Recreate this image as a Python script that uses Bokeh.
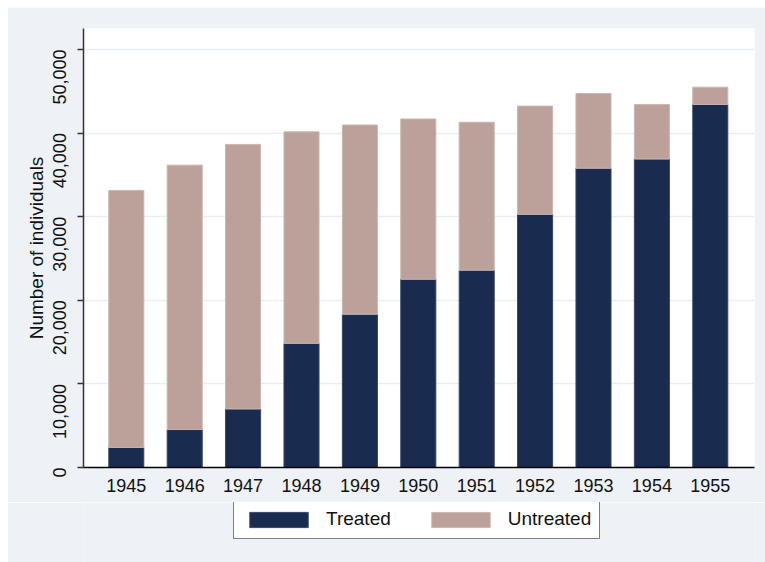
import math
from bokeh.plotting import figure
from bokeh.layouts import column
from bokeh.models import Range1d, FixedTicker, NumeralTickFormatter, Legend, ColumnDataSource
from bokeh.embed import file_html
from bokeh.resources import INLINE

years = [1945, 1946, 1947, 1948, 1949, 1950, 1951, 1952, 1953, 1954, 1955]
totals = [33150, 36170, 38650, 40150, 40970, 41690, 41300, 43230, 44740, 43430, 45500]
treated = [2400, 4540, 7000, 14850, 18330, 22520, 23600, 30280, 35800, 36900, 43430]
untreated = [t - tr for t, tr in zip(totals, treated)]
y_ticks = [0, 10000, 20000, 30000, 40000, 50000]
series = ["Treated", "Untreated"]
colors = ["#1A2B50", "#BCA19A"]
outlines = ["#33456b", "#cdb4ad"]

src = ColumnDataSource(dict(year=years, Treated=treated, Untreated=untreated))

FONT = "Liberation Sans"
BG = "#EEF1F6"

p = figure(frame_width=671, frame_height=439, output_backend="svg", toolbar_location=None,
           x_range=Range1d(1944.267, 1955.757), y_range=Range1d(0, 52515),
           min_border_left=76, min_border_right=11, min_border_top=21, min_border_bottom=35)
p.background_fill_color = "white"
p.border_fill_color = BG
p.outline_line_color = None

rs = p.vbar_stack(series, x="year", width=0.6, source=src,
                  fill_color=colors, line_color=outlines, line_width=1)

p.xgrid.visible = False
p.ygrid.ticker = FixedTicker(ticks=y_ticks)
p.ygrid.grid_line_color = "#E8EEF4"
p.ygrid.grid_line_width = 1.5

xa = p.xaxis[0]
xa.ticker = FixedTicker(ticks=years)
xa.major_tick_out = 0
xa.major_tick_in = 0
xa.minor_tick_out = 0
xa.minor_tick_in = 0
xa.axis_line_color = "black"
xa.axis_line_width = 1.5
xa.major_label_text_font = FONT
xa.major_label_text_font_size = "18px"
xa.major_label_text_color = "#111111"
xa.major_label_standoff = 11

ya = p.yaxis[0]
ya.ticker = FixedTicker(ticks=y_ticks)
ya.formatter = NumeralTickFormatter(format="0,0")
ya.major_tick_out = 6
ya.major_tick_in = 0
ya.minor_tick_out = 0
ya.minor_tick_in = 0
ya.axis_line_color = "#333333"
ya.axis_line_width = 1.5
ya.major_tick_line_color = "#333333"
ya.major_tick_line_width = 1.5
ya.major_label_orientation = math.pi / 2
ya.major_label_text_font = FONT
ya.major_label_text_font_size = "18px"
ya.major_label_text_color = "#111111"
ya.major_label_standoff = 18
ya.axis_label = "Number of individuals"
ya.axis_label_text_font = FONT
ya.axis_label_text_font_size = "19px"
ya.axis_label_text_font_style = "normal"
ya.axis_label_text_color = "#111111"
ya.axis_label_standoff = -3

# legend strip below the chart (same frame alignment as the chart)
lf = figure(frame_width=671, frame_height=60, output_backend="svg", toolbar_location=None,
            x_range=Range1d(0, 671), y_range=Range1d(0, 60),
            x_axis_type=None, y_axis_type=None,
            min_border_left=76, min_border_right=11, min_border_top=0, min_border_bottom=0)
lf.background_fill_color = BG
lf.background_fill_alpha = 1
lf.border_fill_color = BG
lf.outline_line_color = None
lf.xgrid.visible = False
lf.ygrid.visible = False
# hidden renderers that only supply the legend swatches
lr = lf.vbar_stack(series, x="year", width=0.6, source=src,
                   fill_color=colors, line_color=outlines, line_width=1)
for r in lr:
    r.visible = False

legend = Legend(items=[(s, [r]) for s, r in zip(series, lr)],
                orientation="horizontal", location=(150, 23))
legend.glyph_width = 73
legend.glyph_height = 19
legend.label_standoff = 11
legend.spacing = 33
legend.padding = 8
legend.margin = 0
legend.label_text_font = FONT
legend.label_text_font_size = "19px"
legend.label_text_color = "#111111"
legend.border_line_color = "black"
legend.border_line_width = 1.5
legend.background_fill_color = "white"
legend.background_fill_alpha = 1
legend.inactive_fill_alpha = 0
lf.add_layout(legend, "center")

layout = column(p, lf, spacing=0)
layout.margin = (7, 0, 0, 7)

open("out.html", "w").write(file_html(layout, INLINE))
